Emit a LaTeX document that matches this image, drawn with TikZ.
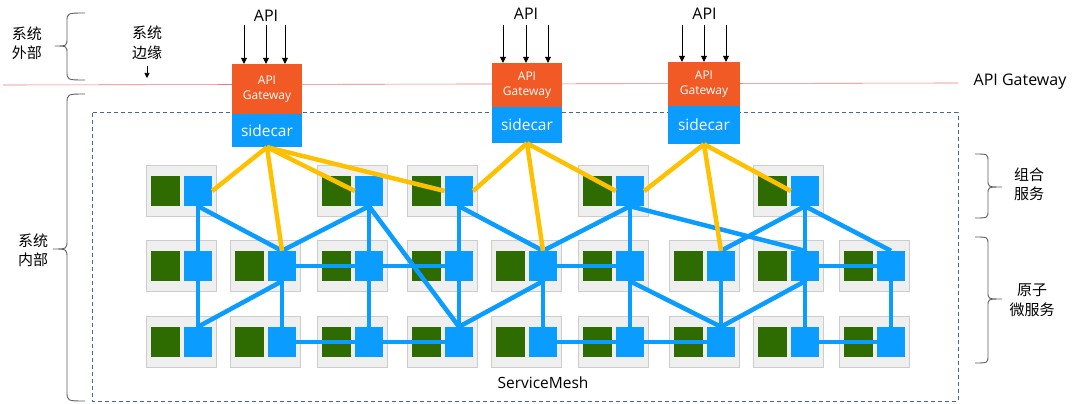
\documentclass[tikz,border=0pt]{standalone}
\usepackage{fontspec}
\setmainfont{Open Sans}
\newfontfamily\cjk{Noto Sans CJK SC}
\usetikzlibrary{arrows.meta}
\definecolor{meshblue}{RGB}{10,156,255}
\definecolor{svcgreen}{RGB}{46,107,0}
\definecolor{gwor}{RGB}{241,90,36}
\definecolor{goldc}{RGB}{255,192,0}
\definecolor{boxgray}{RGB}{239,239,239}
\definecolor{boxline}{RGB}{205,205,205}
\definecolor{dashblue}{RGB}{70,100,160}
\definecolor{redline}{RGB}{240,120,120}
\definecolor{bracegray}{RGB}{95,95,95}
\newcommand\mysvc[3]{%
  \node[svcbox] (b#1) at (#2+35,#3) {};
  \node[greensq] (g#1) at (#2+19.5,#3) {};
  \node[bluesq] (#1) at (#2+52,#3) {};}
\begin{document}
\begin{tikzpicture}[x=1pt,y=-1pt,
  svcbox/.style={draw=boxline, fill=boxgray, line width=0.8pt, minimum width=70pt, minimum height=51pt, inner sep=0pt},
  greensq/.style={fill=svcgreen, minimum width=29pt, minimum height=30pt, inner sep=0pt},
  bluesq/.style={fill=meshblue, minimum width=28pt, minimum height=30pt, inner sep=0pt},
  meshline/.style={meshblue, line width=4.5pt},
  goldline/.style={goldc, line width=4.5pt},
  gwbox/.style={fill=gwor, text=white, align=center, inner sep=0pt, font=\fontsize{12}{15}\selectfont},
  sidebox/.style={fill=meshblue, text=white, inner sep=0pt, font=\fontsize{15.5}{18}\selectfont},
  apiarrow/.style={black, line width=0.7pt, -{Triangle[length=6pt,width=6pt]}},
  cjklabel/.style={align=center, inner sep=0pt, font=\cjk\fontsize{15}{19.5}\selectfont},
  bracepath/.style={bracegray, line width=0.9pt},
  latinlabel/.style={inner sep=0pt, font=\fontsize{16}{19}\selectfont}
]
\useasboundingbox (0,0) rectangle (1080,404);
\fill[white] (0,0) rectangle (1080,404);

% red boundary line and dashed region
\draw[redline, line width=0.6pt] (3,85) -- (958,83);
\draw[dashblue, line width=1pt, dash pattern=on 4pt off 3pt] (92,113) rectangle (958,401);

% gateways
\node[gwbox, minimum width=70pt, minimum height=50pt] (gw1) at (267,89) {API\\Gateway};
\node[sidebox, minimum width=70pt, minimum height=33pt] (s1) at (267,130.5) {sidecar};
\node[gwbox, minimum width=70pt, minimum height=44pt] (gw2) at (527,85) {API\\Gateway};
\node[sidebox, minimum width=70pt, minimum height=36pt] (s2) at (527,125) {sidecar};
\node[gwbox, minimum width=72pt, minimum height=44pt] (gw3) at (704,84) {API\\Gateway};
\node[sidebox, minimum width=72pt, minimum height=38pt] (s3) at (704,125) {sidecar};

% API labels and arrows
\node[latinlabel] (api1) at (266,16) {API};
\node[latinlabel] (api2) at (526,14) {API};
\node[latinlabel] (api3) at (704.5,14) {API};
\foreach \x [count=\i] in {244,266,285} {\coordinate (ta\i) at (\x,25); \draw[apiarrow] (ta\i) -- (ta\i |- gw1.north);}
\foreach \x [count=\i] in {503,526,548} {\coordinate (tb\i) at (\x,25); \draw[apiarrow] (tb\i) -- (tb\i |- gw2.north);}
\foreach \x [count=\i] in {682,704,726} {\coordinate (tc\i) at (\x,25); \draw[apiarrow] (tc\i) -- (tc\i |- gw3.north);}

% services
\mysvc{r1c1}{146}{191}
\mysvc{r1c3}{317}{191}
\mysvc{r1c4}{407}{191}
\mysvc{r1c6}{578}{191}
\mysvc{r1c8}{753}{191}
\foreach \c/\l in {1/146,2/230,3/317,4/407,5/491,6/578,7/669,8/753,9/839} {
  \mysvc{r2c\c}{\l}{266}
  \mysvc{r3c\c}{\l}{342}
}

% mesh lines
\foreach \a/\b in {r1c1/r2c1, r2c1/r3c1, r1c3/r2c3, r2c3/r3c3, r2c2/r3c2, r1c4/r2c4, r2c4/r3c4, r2c5/r3c5, r1c6/r2c6, r2c6/r3c6, r2c7/r3c7, r1c8/r2c8, r2c8/r3c8, r2c9/r3c9,
  r2c2/r2c3, r2c3/r2c4, r3c2/r3c3, r3c3/r3c4, r2c5/r2c6, r3c5/r3c6, r3c6/r3c7, r2c8/r2c9, r3c8/r3c9}
  \draw[meshline] (\a) -- (\b);
\foreach \a/\b in {r1c1.south/r2c2.north, r1c3.south/r2c2.north, r1c3.south/r3c4.north, r2c2.south/r3c1.north,
  r1c4.south/r2c5.north, r1c6.south/r2c5.north, r2c5.south/r3c4.north, r1c6.south/r2c8.north,
  r2c6.south/r3c7.north, r1c8.south/r2c7.north, r2c8.south/r3c7.north, r1c8.south/r2c9.north}
  \draw[meshline] (\a) -- (\b);

% sidecar lines
\draw[goldline] (s1.south) -- (r1c1.east);
\draw[goldline] (s1.south) -- (r2c2.north);
\draw[goldline] (s1.south) -- (r1c3.west);
\draw[goldline] (s1.south) -- (r1c4.west);
\draw[goldline] (s2.south) -- (r1c4.east);
\draw[goldline] (s2.south) -- (r2c5.north);
\draw[goldline] (s2.south) -- (r1c6.west);
\draw[goldline] (s3.south) -- (r1c6.east);
\draw[goldline] (s3.south) -- (r2c7.north);
\draw[goldline] (s3.south) -- (r1c8.west);

% labels
\node[cjklabel] (outside) at (27,43.5) {系统\\外部};
\node[cjklabel] (edge) at (147,43) {系统\\边缘};
\coordinate (e1) at (147,66);
\coordinate (e2) at (147,78);
\draw[black, line width=0.7pt, -{Triangle[length=5pt,width=5pt]}] (e1) -- (e2);
\node[cjklabel] (inside) at (33,250.5) {系统\\内部};
\node[cjklabel] (combo) at (1029,184.5) {组合\\服务};
\node[cjklabel] (atomic) at (1032,300) {原子\\微服务};
\node[latinlabel] (gwlabel) at (1020,82) {API Gateway};
\node[latinlabel, font=\fontsize{15.5}{18}\selectfont] (mesh) at (543,383) {ServiceMesh};

% braces
\draw[bracepath] (85,13) .. controls (67,13) .. (67,22) -- (67,38) .. controls (67,46) .. (55,46) .. controls (67,46) .. (67,54) -- (67,71) .. controls (67,80) .. (85,80);
\draw[bracepath] (85,94) .. controls (67,94) .. (67,104) -- (67,240) .. controls (67,249) .. (53,249) .. controls (67,249) .. (67,258) -- (67,391) .. controls (67,401) .. (85,401);
\draw[bracepath] (975,154) .. controls (988,154) .. (988,162) -- (988,180) .. controls (988,187) .. (1002,187) .. controls (988,187) .. (988,194) -- (988,210) .. controls (988,218) .. (975,218);
\draw[bracepath] (975,237) .. controls (988,237) .. (988,245) -- (988,292) .. controls (988,299) .. (1002,299) .. controls (988,299) .. (988,306) -- (988,355) .. controls (988,363) .. (975,363);
\end{tikzpicture}
\end{document}
